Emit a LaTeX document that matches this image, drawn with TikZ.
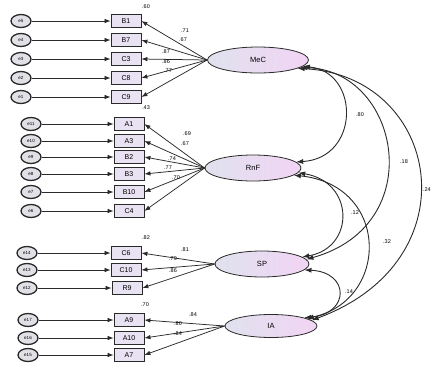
\documentclass[tikz,border=0pt]{standalone}
\usepackage{fontspec}
\setmainfont{Liberation Sans}
\usetikzlibrary{arrows.meta,shapes.geometric}
\definecolor{boxfill}{HTML}{E8E2F2}
\definecolor{lineg}{HTML}{2A2A2A}
\definecolor{ellL}{HTML}{E0E2EE}
\definecolor{ellR}{HTML}{F2D4F4}
\definecolor{errfill}{HTML}{E0E0E6}
\begin{document}
\begin{tikzpicture}[x=1pt,y=-1pt,
  obs/.style={draw=lineg, fill=boxfill, minimum width=30pt, minimum height=13pt, inner sep=0pt, line width=0.8pt, font=\fontsize{7}{8}\selectfont},
  err/.style={ellipse, draw=lineg, fill=errfill, minimum width=20pt, minimum height=13pt, inner sep=0pt, line width=1.3pt, font=\fontsize{4.5}{5}\selectfont},
  lat/.style={ellipse, draw=lineg, left color=ellL, right color=ellR, minimum height=26pt, inner sep=0pt, line width=0.8pt, font=\fontsize{7.5}{8}\selectfont},
  load/.style={-{Latex[length=6pt,width=4.5pt]}, line width=0.75pt, draw=lineg},
  cov/.style={{Latex[length=7pt,width=5pt]}-{Latex[length=7pt,width=5pt]}, line width=0.9pt, draw=lineg},
  num/.style={font=\fontsize{5.5}{6}\selectfont, inner sep=0pt}]
\useasboundingbox (0,0) rectangle (432,370);
\fill[white] (0,0) rectangle (432,370);

% latent variables
\node[lat, minimum width=101pt] (MeC) at (258,60) {MeC};
\node[lat, minimum width=96pt] (RnF) at (253,168) {RnF};
\node[lat, minimum width=94pt] (SP) at (262,264) {SP};
\node[lat, minimum width=92pt, minimum height=23pt] (IA) at (271,326) {IA};

% group 1
\node[obs] (B1) at (126,21) {B1};
\node[obs] (B7) at (126,40) {B7};
\node[obs] (C3) at (126,59) {C3};
\node[obs] (C8) at (126,78) {C8};
\node[obs] (C9) at (126,97) {C9};
\node[err] (e5) at (21,21) {e5};
\node[err] (e4) at (21,40) {e4};
\node[err] (e3) at (21,59) {e3};
\node[err] (e2) at (21,78) {e2};
\node[err] (e1) at (21,97) {e1};

% group 2
\node[obs] (A1) at (129,124) {A1};
\node[obs] (A3) at (129,141) {A3};
\node[obs] (B2) at (129,157) {B2};
\node[obs] (B3) at (129,174) {B3};
\node[obs] (B10) at (129,192) {B10};
\node[obs] (C4) at (129,211) {C4};
\node[err] (e11) at (31,124) {e11};
\node[err] (e10) at (31,141) {e10};
\node[err] (e9) at (31,157) {e9};
\node[err] (e8) at (31,174) {e8};
\node[err] (e7) at (31,192) {e7};
\node[err] (e6) at (31,211) {e6};

% group 3
\node[obs] (C6) at (126,253) {C6};
\node[obs] (C10) at (126,270) {C10};
\node[obs] (R9) at (127,288) {R9};
\node[err] (e14) at (27,253) {e14};
\node[err] (e13) at (27,270) {e13};
\node[err] (e12) at (27,288) {e12};

% group 4
\node[obs] (A9) at (129,320) {A9};
\node[obs] (A10) at (129,338) {A10};
\node[obs] (A7) at (129,355) {A7};
\node[err] (e17) at (28,320) {e17};
\node[err] (e16) at (28,338) {e16};
\node[err] (e15) at (28,355) {e15};

% error arrows
\foreach \e/\b in {e5/B1,e4/B7,e3/C3,e2/C8,e1/C9,e11/A1,e10/A3,e9/B2,e8/B3,e7/B10,e6/C4,e14/C6,e13/C10,e12/R9,e17/A9,e16/A10,e15/A7}
  \draw[load] (\e) -- (\b);

% loadings
\foreach \b in {B1,B7,C3,C8,C9} \draw[load] (MeC.west) -- (\b.east);
\foreach \b in {A1,A3,B2,B3,B10,C4} \draw[load] (RnF.west) -- (\b.east);
\foreach \b in {C6,C10,R9} \draw[load] (SP.west) -- (\b.east);
\foreach \b in {A9,A10,A7} \draw[load] (IA.west) -- (\b.east);

% loading labels
\node[num] (l1) at (185,31) {.71};
\node[num] (l2) at (183,40) {.67};
\node[num] (l3) at (166,52) {.87};
\node[num] (l4) at (166,62) {.86};
\node[num] (l5) at (168,71) {.77};
\node[num] (l6) at (187,134) {.69};
\node[num] (l7) at (185,144) {.67};
\node[num] (l8) at (172,159) {.74};
\node[num] (l9) at (168,168) {.77};
\node[num] (l10) at (176,178) {.70};
\node[num] (l11) at (185,250) {.81};
\node[num] (l12) at (173,259) {.79};
\node[num] (l13) at (173,271) {.86};
\node[num] (l14) at (193,315) {.84};
\node[num] (l15) at (178,324) {.80};
\node[num] (l16) at (178,334) {.84};

% squared multiple correlations
\node[num] (r1) at (146,7) {.60};
\node[num] (r2) at (146,108) {.43};
\node[num] (r3) at (146,238) {.82};
\node[num] (r4) at (145,305) {.70};

% covariances
\draw[cov] (MeC.-8) .. controls (360,72) and (360,158) .. (RnF.8);
\draw[cov] (MeC.-10) .. controls (400,70) and (430,225) .. (SP.6);
\draw[cov] (MeC.-12) .. controls (440,75) and (475,260) .. (IA.8);
\draw[cov] (RnF.-6) .. controls (355,182) and (355,248) .. (SP.10);
\draw[cov] (RnF.-10) .. controls (390,185) and (390,300) .. (IA.12);
\draw[cov] (SP.-8) .. controls (350,272) and (350,314) .. (IA.14);

\node[num] (c1) at (360,115) {.80};
\node[num] (c2) at (404,162) {.18};
\node[num] (c3) at (355,213) {.12};
\node[num] (c4) at (387,242) {.32};
\node[num] (c5) at (349,292) {.14};
\node[num, anchor=east] (c6) at (431,190) {.24};
\end{tikzpicture}
\end{document}
